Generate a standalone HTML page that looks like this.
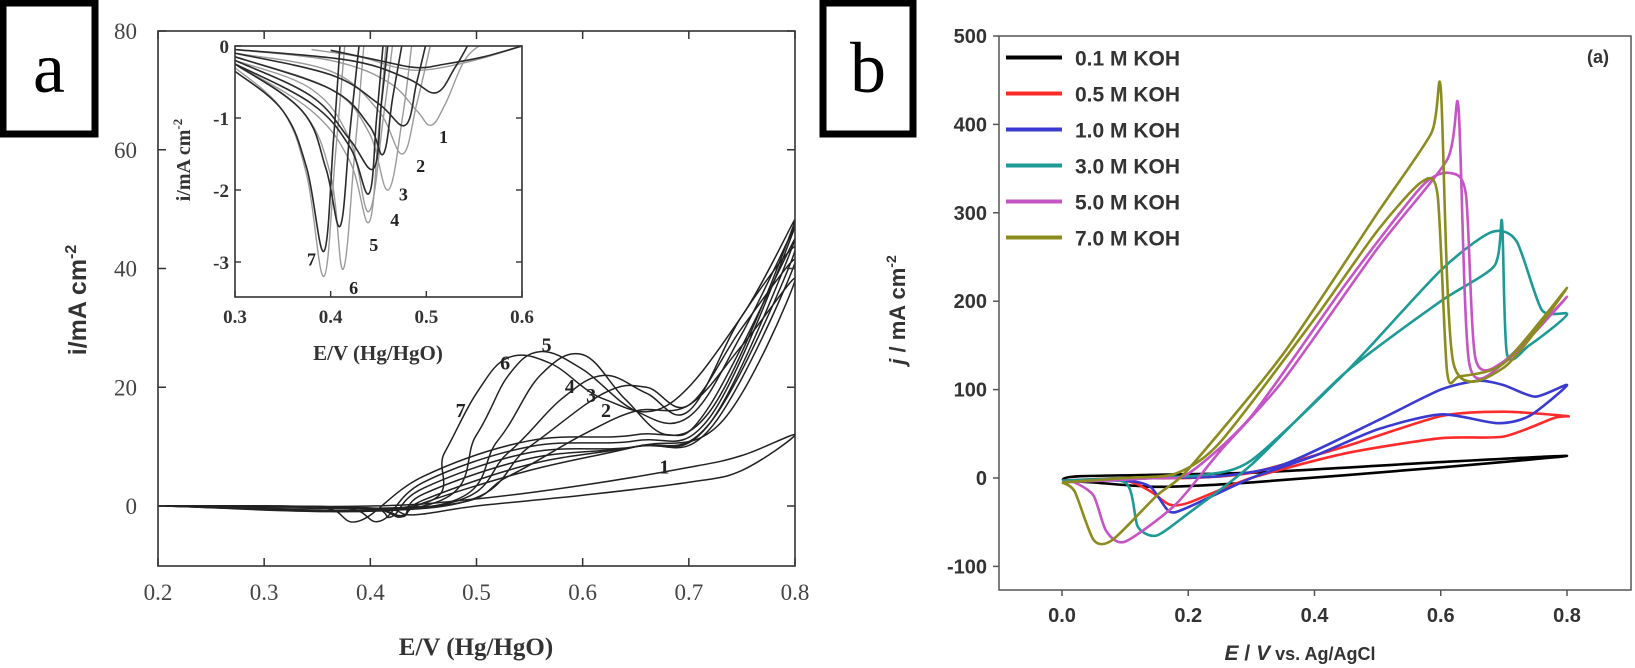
<!DOCTYPE html>
<html><head><meta charset="utf-8">
<style>
html,body{margin:0;padding:0;background:#fff;}
svg{display:block;}
.serif{font-family:"Liberation Serif",serif;}
.sans{font-family:"Liberation Sans",sans-serif;font-weight:bold;}
</style></head>
<body>
<svg id="fig" width="1635" height="668" viewBox="0 0 1635 668" xmlns="http://www.w3.org/2000/svg">
  <g id="panelA"></g>
  <g id="panelB"></g>
</svg>
<script>
// ---------- Panel A data ----------
const aXTicks = [0.2,0.3,0.4,0.5,0.6,0.7,0.8];
const aYTicks = [0,20,40,60,80];
const aCurveLabels = ["1","2","3","4","5","6","7"];
const aCurve1 = [[0.2,0],[0.4,0],[0.5,1.2],[0.6,3.5],[0.7,6.5],[0.75,8.5],[0.8,12],[0.75,6],[0.7,4],[0.6,1.8],[0.5,0],[0.44,-1.5],[0.41,-0.4],[0.3,0],[0.2,0]];
const aCurve2 = [[0.2,0],[0.46,0],[0.53,5],[0.6,12],[0.65,16],[0.7,17],[0.75,27],[0.8,38],[0.73,14],[0.65,10],[0.55,6],[0.45,0.5],[0.43,-1.6],[0.4,-0.4],[0.3,0],[0.2,0]];
const aCurve3 = [[0.2,0],[0.47,0],[0.55,10],[0.62,19],[0.66,20],[0.7,17],[0.75,30],[0.8,41],[0.72,13],[0.65,10],[0.55,7],[0.45,1],[0.43,-1.8],[0.4,-0.4],[0.3,0],[0.2,0]];
const aCurve4 = [[0.2,0],[0.46,0],[0.53,9],[0.58,18],[0.62,22],[0.66,19],[0.7,16],[0.75,32],[0.8,43],[0.72,14],[0.65,10],[0.55,8],[0.45,2],[0.43,-1.8],[0.4,-0.4],[0.3,0],[0.2,0]];
const aCurve5 = [[0.2,0],[0.46,0],[0.52,11],[0.56,22],[0.6,25.5],[0.64,18],[0.68,12],[0.72,17],[0.8,45],[0.72,14],[0.65,10],[0.55,9],[0.45,3],[0.42,-1.8],[0.4,-0.4],[0.3,0],[0.2,0]];
const aCurve6 = [[0.2,0],[0.45,0],[0.5,12],[0.53,22],[0.56,26],[0.6,23],[0.65,16],[0.7,15],[0.75,29],[0.8,47],[0.72,15],[0.65,11],[0.55,10],[0.45,4],[0.41,-2.5],[0.38,-0.4],[0.3,0],[0.2,0]];
const aCurve7 = [[0.2,0],[0.44,0],[0.47,9],[0.5,19],[0.53,25],[0.57,24],[0.62,18],[0.68,17],[0.75,32],[0.8,48],[0.72,16],[0.65,12],[0.55,11],[0.45,5],[0.39,-2.5],[0.36,-0.4],[0.3,0],[0.2,0]];
const aCurves = [aCurve1,aCurve2,aCurve3,aCurve4,aCurve5,aCurve6,aCurve7];

// inset
const insXTicks = [0.3,0.4,0.5,0.6];
const insYTicks = [0,-1,-2,-3];
const insGray1 = [[0.3,-0.05],[0.4,-0.2],[0.46,-0.5],[0.49,-0.9],[0.505,-1.1],[0.52,-0.8],[0.54,-0.2],[0.56,0.05]];
const insDark1 = [[0.3,-0.05],[0.42,-0.2],[0.48,-0.45],[0.51,-0.65],[0.53,-0.3],[0.545,0.05]];
const insGray2 = [[0.3,-0.1],[0.4,-0.35],[0.45,-0.9],[0.475,-1.5],[0.49,-0.8],[0.505,0.05]];
const insDark2 = [[0.3,-0.1],[0.4,-0.4],[0.45,-0.8],[0.478,-1.1],[0.49,-0.5],[0.5,0.05]];
const insGray3 = [[0.3,-0.15],[0.4,-0.6],[0.44,-1.2],[0.46,-2.0],[0.475,-1.0],[0.485,0.05]];
const insDark3 = [[0.3,-0.15],[0.4,-0.6],[0.44,-1.1],[0.455,-1.5],[0.465,-0.7],[0.475,0.05]];
const insGray4 = [[0.3,-0.2],[0.38,-0.6],[0.42,-1.3],[0.44,-2.3],[0.455,-1.0],[0.465,0.05]];
const insDark4 = [[0.3,-0.2],[0.38,-0.7],[0.42,-1.3],[0.445,-1.7],[0.453,-0.8],[0.46,0.05]];
const insGray5 = [[0.3,-0.25],[0.38,-0.9],[0.42,-1.6],[0.44,-2.45],[0.45,-1.2],[0.458,0.05]];
const insDark5 = [[0.3,-0.25],[0.38,-0.8],[0.42,-1.4],[0.44,-2.05],[0.448,-1.0],[0.455,0.05]];
const insGray6 = [[0.3,-0.25],[0.37,-0.9],[0.4,-1.8],[0.413,-3.1],[0.425,-1.5],[0.435,0.05]];
const insDark6 = [[0.3,-0.25],[0.37,-0.9],[0.395,-1.7],[0.41,-2.5],[0.42,-1.2],[0.43,0.05]];
const insGray7 = [[0.3,-0.3],[0.35,-0.9],[0.375,-1.8],[0.393,-3.2],[0.405,-1.5],[0.415,0.05]];
const insDark7 = [[0.3,-0.35],[0.35,-0.9],[0.375,-1.7],[0.393,-2.85],[0.403,-1.3],[0.41,0.05]];
const insBackG = [[0.6,0],[0.55,-0.2],[0.5,-0.33],[0.47,-0.3],[0.43,-0.15],[0.38,-0.05]];
const insBackD = [[0.6,0],[0.56,-0.15],[0.52,-0.25],[0.49,-0.3],[0.45,-0.2],[0.4,-0.06]];
const insGrayCurves = [insGray1,insGray2,insGray3,insGray4,insGray5,insGray6,insGray7,insBackG];
const insDarkCurves = [insDark1,insDark2,insDark3,insDark4,insDark5,insDark6,insDark7,insBackD];

// ---------- Panel B data ----------
const bXTicks = [0.0,0.2,0.4,0.6,0.8];
const bYTicks = [-100,0,100,200,300,400,500];
const bSeriesNames = ["0.1 M KOH","0.5 M KOH","1.0 M KOH","3.0 M KOH","5.0 M KOH","7.0 M KOH"];
const bColors = ["#000000","#ff2a2a","#3a3ad0","#1e9a96","#c554c5","#8c8c1e"];
const b01 = [[0,-3],[0.03,2],[0.3,6],[0.6,18],[0.8,25],[0.6,12],[0.3,-5],[0.15,-10],[0.05,-5],[0,-3]];
const b05 = [[0,-3],[0.1,0],[0.2,0],[0.3,6],[0.45,36],[0.6,70],[0.7,75],[0.8,70],[0.78,68],[0.7,47],[0.6,45],[0.45,28],[0.3,0],[0.2,-28],[0.17,-30],[0.14,-15],[0.1,-3],[0,-3]];
const b10 = [[0,-3],[0.15,0],[0.25,2],[0.35,15],[0.5,65],[0.6,100],[0.66,110],[0.7,105],[0.75,92],[0.8,105],[0.74,70],[0.69,62],[0.6,72],[0.5,55],[0.4,25],[0.3,0],[0.2,-33],[0.17,-38],[0.14,-10],[0.1,-3],[0,-3]];
const b30 = [[0,-3],[0.1,0],[0.22,3],[0.3,20],[0.45,120],[0.6,235],[0.68,278],[0.72,268],[0.76,190],[0.8,185],[0.74,150],[0.705,140],[0.697,290],[0.685,240],[0.6,200],[0.45,120],[0.3,15],[0.2,-40],[0.15,-65],[0.12,-55],[0.1,-5],[0,-3]];
const b50 = [[0,-5],[0.15,0],[0.2,5],[0.3,70],[0.45,220],[0.57,330],[0.615,345],[0.64,320],[0.655,135],[0.7,132],[0.8,205],[0.7,130],[0.645,130],[0.628,420],[0.61,360],[0.5,260],[0.35,110],[0.25,30],[0.18,-30],[0.1,-72],[0.07,-60],[0.05,-20],[0.02,-5],[0,-5]];
const b70 = [[0,-5],[0.1,0],[0.18,5],[0.25,40],[0.4,180],[0.5,280],[0.57,335],[0.595,320],[0.61,120],[0.63,115],[0.7,130],[0.8,215],[0.7,125],[0.62,130],[0.6,440],[0.585,390],[0.5,300],[0.35,140],[0.2,10],[0.15,-20],[0.08,-70],[0.05,-70],[0.02,-15],[0,-5]];
const bSeries = [b01,b05,b10,b30,b50,b70];

const NS="http://www.w3.org/2000/svg";
function mk(tag, attrs, parent){const e=document.createElementNS(NS,tag);for(const k in attrs)e.setAttribute(k,attrs[k]);parent.appendChild(e);return e;}
function smooth(pts,t){
  t = (t===undefined)?0.18:t;
  let d="M"+pts[0][0].toFixed(1)+","+pts[0][1].toFixed(1);
  for(let i=0;i<pts.length-1;i++){
    const p0=pts[Math.max(0,i-1)],p1=pts[i],p2=pts[i+1],p3=pts[Math.min(pts.length-1,i+2)];
    const c1=[p1[0]+(p2[0]-p0[0])*t,p1[1]+(p2[1]-p0[1])*t];
    const c2=[p2[0]-(p3[0]-p1[0])*t,p2[1]-(p3[1]-p1[1])*t];
    d+=" C"+c1[0].toFixed(1)+","+c1[1].toFixed(1)+" "+c2[0].toFixed(1)+","+c2[1].toFixed(1)+" "+p2[0].toFixed(1)+","+p2[1].toFixed(1);
  }
  return d;
}

// ---------- Panel A ----------
const A=document.getElementById('panelA');
const ax=v=>158+(v-0.2)/0.6*(795-158);
const ay=v=>506-v*(506-31)/80;

let el;
el=mk('rect',{x:3,y:3,width:92,height:131,fill:'#fff',stroke:'#000','stroke-width':7},A);


el=mk('text',{x:49,y:92,'font-size':72,'text-anchor':'middle',class:'serif'},A);el.textContent='a';



const aClip=mk('clipPath',{id:'aclip'},A);mk('rect',{x:158,y:31,width:637,height:535},aClip);
const aCurvesG=mk('g',{'clip-path':'url(#aclip)'},A);
aCurves.forEach((c,i)=>{
  const p=mk('path',{d:smooth(c.map(q=>[ax(q[0]),ay(q[1])])),fill:'none',stroke:'#222','stroke-width':1.5},aCurvesG);
  
  
});
el=mk('rect',{x:158,y:31,width:637,height:535,fill:'none',stroke:'#333','stroke-width':1.6},A);


aXTicks.forEach(v=>{
  mk('line',{x1:ax(v),x2:ax(v),y1:566,y2:558,stroke:'#333','stroke-width':1.5},A);
  mk('line',{x1:ax(v),x2:ax(v),y1:31,y2:39,stroke:'#333','stroke-width':1.5},A);
  const t=mk('text',{x:ax(v),y:600,'font-size':23,'text-anchor':'middle',fill:'#444',class:'serif'},A);t.textContent=v.toFixed(1);
  
  
});
aYTicks.forEach(v=>{
  mk('line',{x1:158,x2:166,y1:ay(v),y2:ay(v),stroke:'#333','stroke-width':1.5},A);
  mk('line',{x1:795,x2:787,y1:ay(v),y2:ay(v),stroke:'#333','stroke-width':1.5},A);
  const t=mk('text',{x:137,y:ay(v)+8,'font-size':23,'text-anchor':'end',fill:'#444',class:'serif'},A);t.textContent=v;
  
  
});
el=mk('text',{x:476,y:655,'font-size':25,'font-weight':'bold','text-anchor':'middle',fill:'#333',class:'serif'},A);el.textContent='E/V (Hg/HgO)';


el=mk('text',{transform:'translate(86,300) rotate(-90)','font-size':25,'font-weight':'bold','text-anchor':'middle',fill:'#333',class:'sans'},A);
el.innerHTML='i/mA cm<tspan dy="-10" font-size="16">-2</tspan>';


const aLabelPos=[[0.677,5.5],[0.622,15],[0.608,17.5],[0.588,19],[0.566,26],[0.527,23],[0.485,15]];
aCurveLabels.forEach((s,i)=>{
  const t=mk('text',{x:ax(aLabelPos[i][0]),y:ay(aLabelPos[i][1]),'font-size':20,'font-weight':'bold',fill:'#222','text-anchor':'middle',class:'serif'},A);t.textContent=s;
  
  
});

// inset
const ix=v=>235+(v-0.3)/0.3*(522-235);
const iy=v=>46-v*(262-46)/3;
el=mk('rect',{x:235,y:46,width:287,height:251,fill:'#fff'},A);
const iClip=mk('clipPath',{id:'iclip'},A);mk('rect',{x:235,y:46,width:287,height:251},iClip);
const iG=mk('g',{'clip-path':'url(#iclip)'},A);
insGrayCurves.forEach((c,i)=>{
  const p=mk('path',{d:smooth(c.map(q=>[ix(q[0]),iy(q[1])])),fill:'none',stroke:'#9a9a9a','stroke-width':1.4},iG);
  
  
});
insDarkCurves.forEach((c,i)=>{
  const p=mk('path',{d:smooth(c.map(q=>[ix(q[0]),iy(q[1])])),fill:'none',stroke:'#2a2a2a','stroke-width':1.6},iG);
  
  
  const last=c[c.length-1];
  if(i<7) mk('line',{x1:ix(last[0]),y1:iy(last[1]),x2:ix(last[0])+2,y2:30,stroke:'#2a2a2a','stroke-width':1.4},iG);
});
el=mk('rect',{x:235,y:46,width:287,height:251,fill:'none',stroke:'#333','stroke-width':1.6},A);


insXTicks.forEach(v=>{
  mk('line',{x1:ix(v),x2:ix(v),y1:297,y2:291,stroke:'#333','stroke-width':1.4},A);
  const t=mk('text',{x:ix(v),y:323,'font-size':19,'font-weight':'bold','text-anchor':'middle',fill:'#333',class:'serif'},A);t.textContent=v.toFixed(1);
  
  
});
insYTicks.forEach(v=>{
  mk('line',{x1:235,x2:241,y1:iy(v),y2:iy(v),stroke:'#333','stroke-width':1.4},A);
  mk('line',{x1:522,x2:516,y1:iy(v),y2:iy(v),stroke:'#333','stroke-width':1.4},A);
  const t=mk('text',{x:229,y:iy(v)+7,'font-size':19,'font-weight':'bold','text-anchor':'end',fill:'#333',class:'serif'},A);t.textContent=v;
  
  
});
el=mk('text',{x:378,y:360,'font-size':21,'font-weight':'bold','text-anchor':'middle',fill:'#333',class:'serif'},A);el.textContent='E/V (Hg/HgO)';


el=mk('text',{transform:'translate(190,160) rotate(-90)','font-size':20,'font-weight':'bold','text-anchor':'middle',fill:'#333',class:'serif'},A);
el.innerHTML='i/mA cm<tspan dy="-8" font-size="13">-2</tspan>';


const insLabelPos=[[0.518,-1.25],[0.494,-1.65],[0.476,-2.05],[0.467,-2.4],[0.445,-2.75],[0.424,-3.35],[0.38,-2.95]];
aCurveLabels.forEach((s,i)=>{
  const t=mk('text',{x:ix(insLabelPos[i][0]),y:iy(insLabelPos[i][1])+7,'font-size':18,'font-weight':'bold',fill:'#222','text-anchor':'middle',class:'serif'},A);t.textContent=s;
  
  
});

// ---------- Panel B ----------
const B=document.getElementById('panelB');
const bx=v=>1062+v/0.8*(1567-1062);
const by=v=>478-v*0.884;
el=mk('rect',{x:823,y:3,width:90,height:131,fill:'#fff',stroke:'#000','stroke-width':7},B);


el=mk('text',{x:868,y:92,'font-size':72,'text-anchor':'middle',class:'serif'},B);el.textContent='b';



bSeries.forEach((s,i)=>{
  const p=mk('path',{d:smooth(s.map(q=>[bx(q[0]),by(q[1])]),0.12),fill:'none',stroke:bColors[i],'stroke-width':2.6,'stroke-linejoin':'round'},B);
  
  
});
el=mk('rect',{x:999,y:36,width:632,height:554,fill:'none',stroke:'#555','stroke-width':1.5},B);


bXTicks.forEach(v=>{
  mk('line',{x1:bx(v),x2:bx(v),y1:590,y2:596,stroke:'#555','stroke-width':1.5},B);
  const t=mk('text',{x:bx(v),y:622,'font-size':20,'text-anchor':'middle',fill:'#333',class:'sans'},B);t.textContent=v.toFixed(1);
  
  
});
bYTicks.forEach(v=>{
  mk('line',{x1:993,x2:999,y1:by(v),y2:by(v),stroke:'#555','stroke-width':1.5},B);
  const t=mk('text',{x:987,y:by(v)+7,'font-size':20,'text-anchor':'end',fill:'#333',class:'sans'},B);t.textContent=v;
  
  
});
el=mk('text',{x:1300,y:660,'font-size':21,'text-anchor':'middle',fill:'#333',class:'sans'},B);
el.innerHTML='<tspan font-style="italic">E</tspan> / <tspan font-style="italic">V</tspan><tspan font-size="18"> vs. Ag/AgCl</tspan>';


el=mk('text',{transform:'translate(905,310) rotate(-90)','font-size':22,'text-anchor':'middle',fill:'#333',class:'sans'},B);
el.innerHTML='<tspan font-style="italic">j</tspan> / mA cm<tspan dy="-9" font-size="14">-2</tspan>';


el=mk('text',{x:1598,y:63,'font-size':18,'text-anchor':'middle',fill:'#333',class:'sans'},B);el.textContent='(a)';


bSeriesNames.forEach((n,i)=>{
  const yy=57.5+i*36;
  const l=mk('line',{x1:1006,x2:1062,y1:yy,y2:yy,stroke:bColors[i],'stroke-width':4},B);
  
  
  const t=mk('text',{x:1075,y:yy+8,'font-size':21,fill:'#333',class:'sans'},B);t.textContent=n;
  
  
});
</script>
</body></html>
